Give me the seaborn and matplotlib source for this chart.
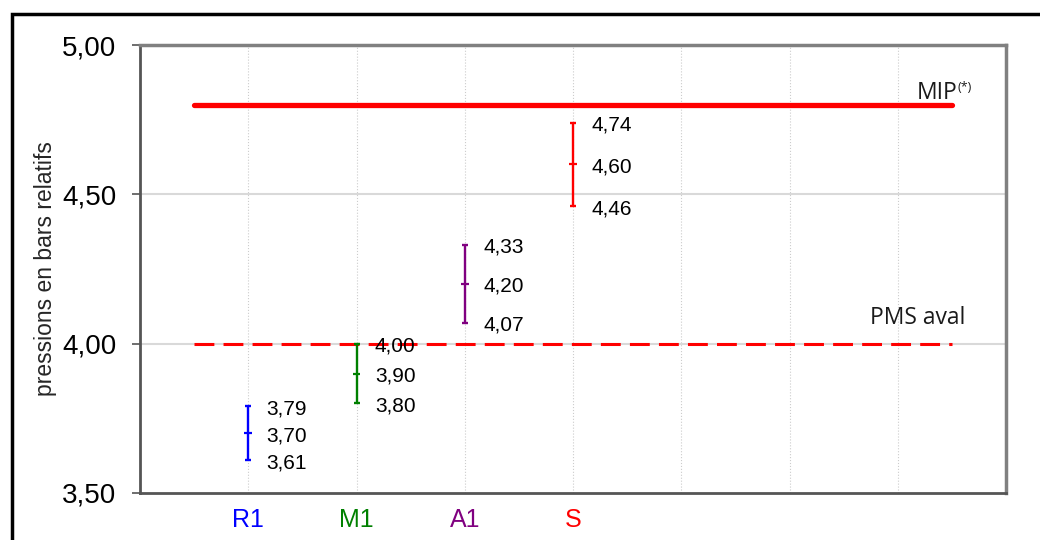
import matplotlib
matplotlib.use("Agg")
import matplotlib.pyplot as plt
from matplotlib.patches import Rectangle
import seaborn as sns
import pandas as pd

categories = ["R1", "M1", "A1", "S"]
centers = [3.70, 3.90, 4.20, 4.60]
lows = [3.61, 3.80, 4.07, 4.46]
highs = [3.79, 4.00, 4.33, 4.74]
colors = ["#0000FF", "#008000", "#800080", "#FF0000"]
mip_value = 4.80
pms_value = 4.00
y_ticks = [3.50, 4.00, 4.50, 5.00]

sns.set_theme(style="white")
plt.rcParams["font.family"] = ["Liberation Sans", "DejaVu Sans"]

fig = plt.figure(figsize=(10.4, 5.4), dpi=100)
ax = fig.add_axes([140/1040, 1-493/540, (1006-140)/1040, (493-45)/540])

positions = list(range(1, len(categories) + 1))
df = pd.DataFrame({"pos": positions, "center": centers, "cat": categories})

# reference lines
ref = pd.DataFrame({"x": [0.5, 7.5], "mip": [mip_value]*2, "pms": [pms_value]*2})
sns.lineplot(data=ref, x="x", y="mip", ax=ax, color="#FF0000", lw=3.8,
             solid_capstyle="round", zorder=4)
sns.lineplot(data=ref, x="x", y="pms", ax=ax, color="#FF0000", lw=2.2,
             linestyle=(0, (6.5, 3.0)), zorder=4)

# error bars
for p, c, lo, hi, col in zip(positions, centers, lows, highs, colors):
    ax.errorbar([p], [c], yerr=[[c - lo], [hi - c]], fmt="none", ecolor=col,
                elinewidth=1.7, capsize=2.3, capthick=1.7, zorder=5)
sns.scatterplot(data=df, x="pos", y="center", hue="cat", palette=colors,
                marker="_", s=30, linewidth=1.6, ax=ax, legend=False, zorder=6)

# value labels
for p, c, lo, hi in zip(positions, centers, lows, highs):
    for v in (hi, c, lo):
        ax.text(p + 0.17, v - 0.008, f"{v:.2f}".replace(".", ","), fontsize=15,
                va="center", ha="left", color="black", zorder=7)

lab_font = ["Open Sans", "DejaVu Sans"]
ax.text(7.18, 4.840, "MIP", fontsize=16.5, family=lab_font,
        va="center", ha="left", color="#1a1a1a")
ax.text(7.555, 4.858, "(*)", fontsize=9, family=lab_font,
        va="center", ha="left", color="#1a1a1a")
ax.text(6.74, 4.086, "PMS aval", fontsize=16.5, family=lab_font,
        va="center", ha="left", color="#1a1a1a")

ax.set_xlim(0, 8)
ax.set_ylim(3.5, 5.0)
ax.set_yticks(y_ticks)
ax.set_yticklabels([f"{t:.2f}".replace(".", ",") for t in y_ticks], fontsize=20)
ax.set_xticks(range(1, 8))
ax.set_xticklabels(categories + [""] * 3, fontsize=18)
for lbl, col in zip(ax.get_xticklabels(), colors):
    lbl.set_color(col)
ax.tick_params(axis="x", length=0, pad=11)
ax.tick_params(axis="y", length=6, width=1.2, color="#555555", direction="out",
               left=True, pad=11, labelcolor="black")
ax.set_xlabel("")
ax.set_ylabel("pressions en bars relatifs", fontsize=16.5, labelpad=4)

ax.grid(False)
for x in range(1, 8):
    ax.axvline(x, color="#CCCCCC", lw=0.8, linestyle=":", zorder=1)
for y in (4.0, 4.5):
    ax.axhline(y, color="#D9D9D9", lw=1.5, zorder=1)

for side in ("left", "bottom"):
    ax.spines[side].set_color("#555555")
    ax.spines[side].set_linewidth(2.0)
for side in ("top", "right"):
    ax.spines[side].set_color("#808080")
    ax.spines[side].set_linewidth(2.5)

fig.add_artist(Rectangle((12/1040, -0.2), 2.0, 1 - 14/540 + 0.2,
                         transform=fig.transFigure, fill=False,
                         edgecolor="black", lw=2.5))

fig.savefig("out.png", dpi=100)
